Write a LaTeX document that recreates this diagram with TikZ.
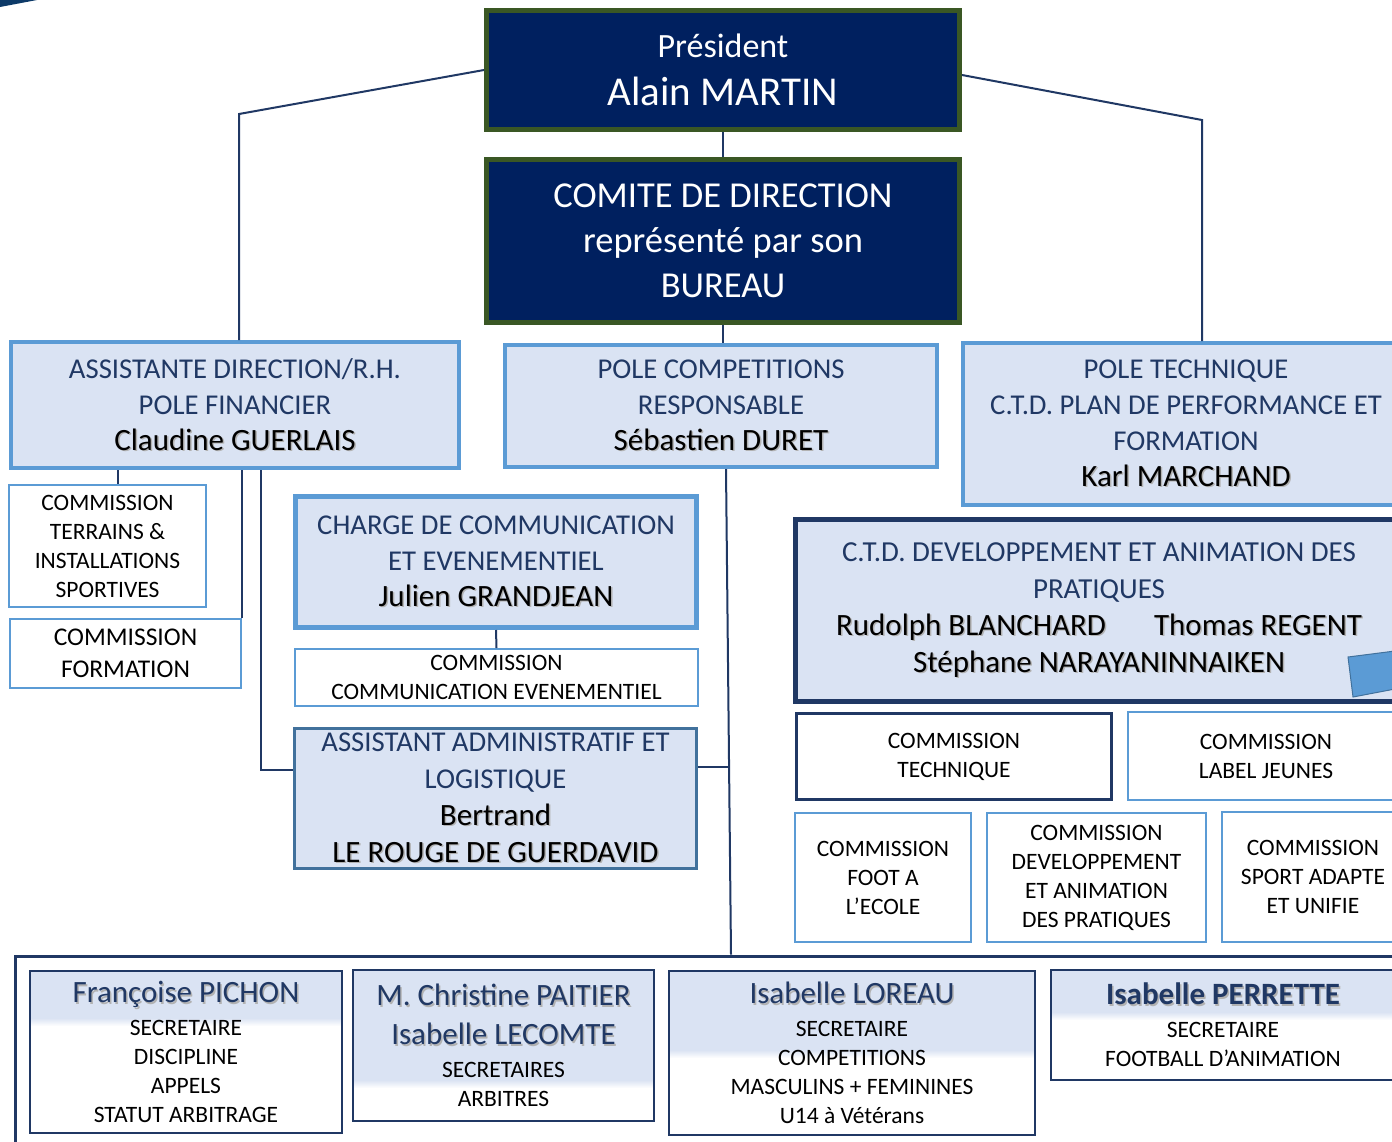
\documentclass[tikz,border=0pt]{standalone}
\usepackage{fontspec}
\setmainfont{Carlito}
\usepackage{tikz}
\usetikzlibrary{positioning,calc}
\definecolor{marine}{HTML}{00205F}
\definecolor{vertcadre}{HTML}{3A5724}
\definecolor{clair}{HTML}{DAE3F3}
\definecolor{bleucadre}{HTML}{5B9BD5}
\definecolor{bleufonce}{HTML}{203864}
\definecolor{bleuacier}{HTML}{41719C}
\definecolor{coin}{HTML}{0D3A68}
\newcommand{\taille}[2]{\fontsize{#1}{#2}\selectfont}
\newcommand{\nom}[2][black]{{\taille{31}{36}\rlap{\hspace{1.5pt}\raisebox{-1.5pt}{\color{black!30}#2}}\color{#1}#2}}
\tikzset{%
	chef/.style       = {draw=vertcadre, fill=marine, line width=5pt, text=white, align=center, inner sep=0pt},
	pole/.style       = {draw=bleucadre, fill=clair, line width=4pt, text=bleufonce, align=center, inner sep=0pt, font=\taille{28.7}{36}},
	commission/.style = {draw=bleucadre, fill=white, line width=2pt, align=center, inner sep=0pt, font=\taille{23.5}{29}},
	secr/.style       = {draw=bleufonce, fill=white, line width=2pt, align=center, inner sep=0pt, font=\taille{23.5}{29},
		path picture={\fill[clair] (path picture bounding box.north west) rectangle ([yshift=-#1]path picture bounding box.north east);
			\shade[top color=clair, bottom color=white] ([yshift=-#1]path picture bounding box.north west) rectangle ([yshift=-#1-8pt]path picture bounding box.north east);}},
	lien/.style       = {draw=bleufonce, line width=2pt},
}
\begin{document}
\begin{tikzpicture}[x=1pt, y=-1pt]
	\useasboundingbox (0,0) rectangle (1392,1141);
	\fill[coin] (0,0) -- (37,0) -- (0,7) -- cycle;
	% direction
	\node[chef, minimum width=473, minimum height=119, font=\taille{34}{48}] (president) at (723,70) {Président\\{\taille{41}{48}Alain MARTIN}};
	\node[chef, minimum width=473, minimum height=163, font=\taille{36.5}{45}] (comite) at (723,241) {COMITE DE DIRECTION\\représenté par son\\BUREAU};
	% poles
	\node[pole, minimum width=448, minimum height=126] (financier) at (235,405) {ASSISTANTE DIRECTION/R.H.\\POLE FINANCIER\\\nom{Claudine GUERLAIS}};
	\node[pole, minimum width=432, minimum height=122] (competitions) at (721,406) {POLE COMPETITIONS\\RESPONSABLE\\\nom{Sébastien DURET}};
	\node[pole, minimum width=446, minimum height=162] (technique) at (1186,424) {POLE TECHNIQUE\\C.T.D. PLAN DE PERFORMANCE ET\\FORMATION\\\nom{Karl MARCHAND}};
	\node[pole, line width=5pt, minimum width=401, minimum height=131] (communication) at (496,562) {CHARGE DE COMMUNICATION\\ET EVENEMENTIEL\\\nom{Julien GRANDJEAN}};
	\node[pole, draw=bleuacier, line width=3pt, minimum width=402, minimum height=140, font=\taille{28.7}{37}] (logistique) at (495.5,798.5) {ASSISTANT ADMINISTRATIF ET\\LOGISTIQUE\\\nom{Bertrand}\\\nom{LE ROUGE DE GUERDAVID}};
	\node[pole, draw=bleufonce, line width=5pt, minimum width=607, minimum height=182, font=\taille{29}{37}] (developpement) at (1099,610.5) {C.T.D. DEVELOPPEMENT ET ANIMATION DES\\PRATIQUES\\\nom{Rudolph BLANCHARD}\hspace{48pt}\nom{Thomas REGENT}\\\nom{Stéphane NARAYANINNAIKEN}};
	\filldraw[fill=bleucadre, draw=bleuacier, line width=1pt] (1348,657) -- (1395,651) -- (1395,689) -- (1353,697) -- cycle;
	% commissions
	\node[commission, minimum width=197, minimum height=122] (terrains) at (107.5,546) {COMMISSION\\TERRAINS \&\\INSTALLATIONS\\SPORTIVES};
	\node[commission, minimum width=231, minimum height=69, font=\taille{25.5}{32}] (formation) at (125.5,653.5) {COMMISSION\\FORMATION};
	\node[commission, minimum width=403, minimum height=57] (comcom) at (496.5,677.5) {COMMISSION\\COMMUNICATION EVENEMENTIEL};
	\node[commission, draw=bleufonce, line width=3pt, minimum width=315, minimum height=86] (comtech) at (954,756.5) {COMMISSION\\TECHNIQUE};
	\node[commission, minimum width=276, minimum height=88] (label) at (1266,756) {COMMISSION\\LABEL JEUNES};
	\node[commission, minimum width=176, minimum height=129] (ecole) at (883,877.5) {COMMISSION\\FOOT A\\L’ECOLE};
	\node[commission, minimum width=219, minimum height=129] (comdev) at (1096.5,877.5) {COMMISSION\\DEVELOPPEMENT\\ET ANIMATION\\DES PRATIQUES};
	\node[commission, minimum width=182, minimum height=130] (adapte) at (1313,877) {COMMISSION\\SPORT ADAPTE\\ET UNIFIE};
	% secretariat
	\node[draw=bleufonce, line width=3pt, minimum width=1405, minimum height=204, inner sep=0pt] (secretariat) at (717.5,1058) {};
	\node[secr=47pt, minimum width=312, minimum height=162] (pichon) at (186,1052) {\nom[bleufonce]{Françoise PICHON}\\[4pt]SECRETAIRE\\DISCIPLINE\\APPELS\\STATUT ARBITRAGE};
	\node[secr=110pt, minimum width=301, minimum height=151] (paitier) at (503.5,1045.5) {\nom[bleufonce]{M. Christine PAITIER}\\[10pt]\nom[bleufonce]{Isabelle LECOMTE}\\[4pt]SECRETAIRES\\ARBITRES};
	\node[secr=79pt, minimum width=366, minimum height=164] (loreau) at (852,1053) {\nom[bleufonce]{Isabelle LOREAU}\\[4pt]SECRETAIRE\\COMPETITIONS\\MASCULINS + FEMININES\\U14 à Vétérans};
	\node[secr=42pt, minimum width=344, minimum height=110] (perrette) at (1223,1025) {\nom[bleufonce]{\bfseries Isabelle PERRETTE}\\[4pt]SECRETAIRE\\FOOTBALL D’ANIMATION};
	% liens
	\coordinate (coudeG) at (239,114);
	\coordinate (coudeD) at (1202,120);
	\coordinate (coudeL) at (261,770);
	\coordinate (jonction) at (729,767);
	\coordinate (descente) at (726,469);
	\coordinate (arrivee) at (731,956);
	\coordinate (piedT) at (118,484);
	\draw[lien] (president.west) -- (coudeG) -- (coudeG |- financier.north);
	\draw[lien] ([yshift=-5pt]president.east) -- (coudeD) -- (coudeD |- technique.north);
	\draw[lien] (president.south) -- (comite.north);
	\draw[lien] (comite.south) -- (comite.south |- competitions.north);
	\draw[lien] (descente |- competitions.south) -- (arrivee |- secretariat.north);
	\draw[lien] (logistique.east |- jonction) -- (jonction);
	\draw[lien] (piedT |- financier.south) -- (piedT |- terrains.north);
	\draw[lien] (formation.north east |- financier.south) -- (formation.north east);
	\draw[lien] (coudeL |- financier.south) -- (coudeL) -- (coudeL -| logistique.west);
	\draw[lien] (communication.south) -- (comcom.north);
\end{tikzpicture}
\end{document}
